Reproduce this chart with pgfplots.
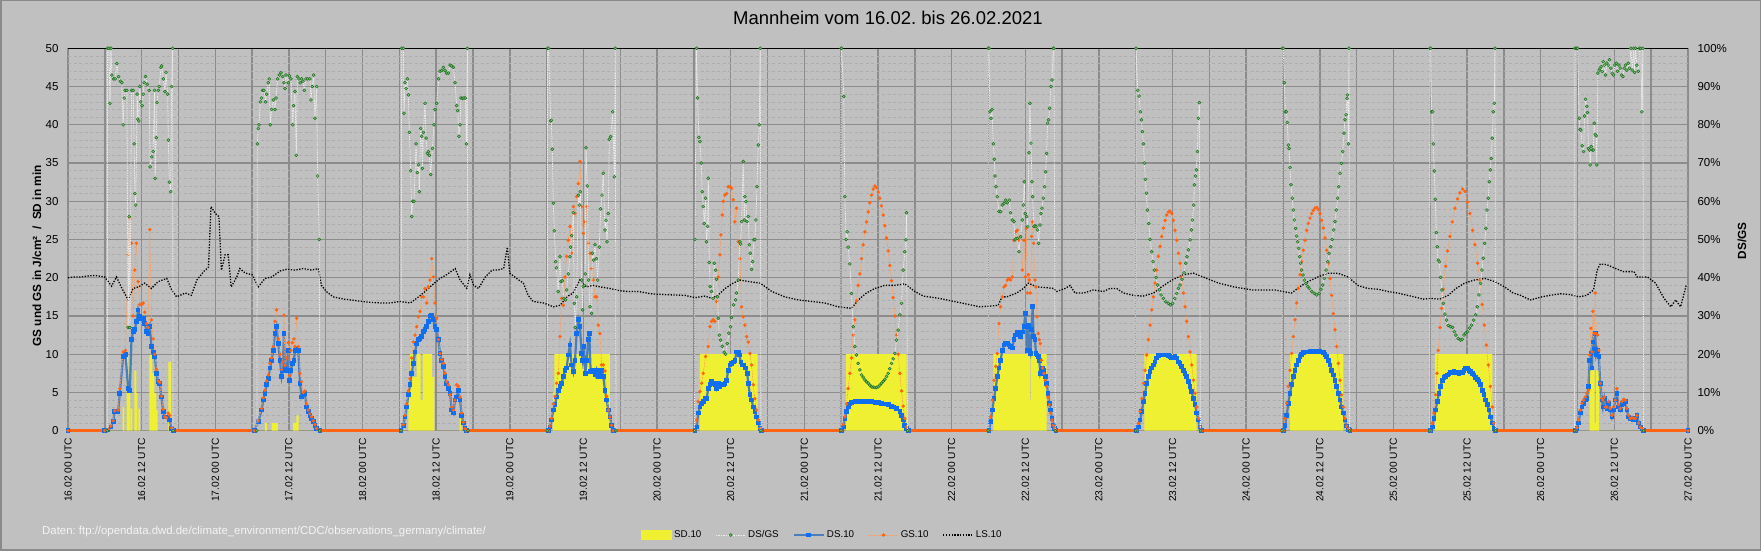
\documentclass[border=0pt]{standalone}
\usepackage{fontspec}
\setmainfont{Liberation Sans}
\usepackage{pgfplots}
\usepackage{pgfplotstable}
\pgfplotsset{compat=1.18}
\frenchspacing
\definecolor{bgc}{HTML}{C0C0C0}
\definecolor{framec}{HTML}{8A8A8A}
\definecolor{gridmaj}{HTML}{8C8C8C}
\definecolor{gridmin}{HTML}{ADADAD}
\definecolor{sdyel}{HTML}{F0F032}
\definecolor{dsgsgreen}{HTML}{1E6E1E}
\definecolor{dsgsfill}{HTML}{7CC47C}
\definecolor{dsgsline}{HTML}{EDEDED}
\definecolor{dsline}{HTML}{4A7EBB}
\definecolor{dsmark}{HTML}{0F6FF0}
\definecolor{gsorange}{HTML}{FF6414}
\definecolor{gsline}{HTML}{FF9C5A}
\definecolor{srcwhite}{HTML}{F4F4F4}

% SD.10 (sunshine duration, min per 10 min), const left
\pgfplotstableread{
d t v
0 0 0
0 8.91 3.1
0 9.18 0
0 9.56 9.9
0 9.83 5.8
0 10.16 0
0 10.26 2.9
0 10.48 0
0 10.81 7.9
0 11.13 4.9
0 11.30 0
0 11.46 2.9
0 11.73 0
0 13.25 9.9
0 13.74 7.5
0 14.07 4.9
0 14.39 2.7
0 14.61 0
0 16.35 9
0 16.78 0
1 8.10 1
1 8.40 0
1 9.20 1
1 10.20 0
1 12.70 1
1 13.20 2
1 13.60 0
2 7.45 6
2 7.75 10
2 8.30 7
2 8.80 10
2 9.45 4
2 9.80 10
2 11.35 7
2 11.70 0
2 15.80 2.5
2 16.10 0
3 7.00 5
3 7.25 10
3 16.30 0
4 6.98 10
4 16.37 0
5 6.76 10
5 16.65 0
6 6.79 10
6 12.76 4
6 12.88 10
6 15.48 0
7 7.41 10
7 15.94 0
8 7.14 10
8 15.83 0
9 6.76 10
9 16.10 0
10 7.96 7.9
10 8.77 1
10 9.04 7.9
10 9.53 0
10 24 0
}\SDt

% DS.10
\pgfplotstableread{
d t v
0 0 0
0 6.00 0
0 6.54 0.1
0 7.00 0.5
0 7.36 1.2
0 7.63 2.5
0 8.17 2.5
0 8.44 4.9
0 8.99 9.7
0 9.37 10
0 9.80 5.5
0 10.07 5.3
0 10.35 11.9
0 10.62 13
0 10.89 13.2
0 11.16 14.3
0 11.43 15.8
0 11.70 14.9
0 11.97 14.7
0 12.25 14.7
0 12.52 14
0 12.79 13
0 13.06 12.7
0 13.33 13.6
0 13.60 11
0 13.88 10.3
0 14.15 9.7
0 14.42 7.5
0 14.69 6.4
0 14.96 6.2
0 15.23 4.4
0 15.51 2.5
0 15.78 1.8
0 16.05 1.8
0 16.32 1.8
0 16.59 1.4
0 16.86 0.3
0 17.14 0
1 6.36 0
1 7.01 1.2
1 7.55 2.7
1 7.83 4
1 8.10 4.9
1 8.37 6
1 8.64 6.8
1 8.91 8.2
1 9.18 9.2
1 9.45 10.5
1 9.73 12.7
1 10.00 13.6
1 10.27 11.4
1 10.54 9.2
1 10.81 7.1
1 10.98 7.9
1 11.19 12.7
1 11.36 8.2
1 11.63 7.9
1 11.90 10.5
1 12.12 6.6
1 12.33 7.9
1 12.55 8.8
1 12.82 9.2
1 12.99 10.5
1 13.26 10.8
1 13.53 10.5
1 13.80 6.2
1 14.07 4.4
1 14.34 4.7
1 14.61 4.9
1 14.88 3.1
1 15.16 2.5
1 15.43 2
1 15.70 1.6
1 15.97 1.2
1 16.24 0.7
1 16.51 0.3
1 17.05 0
2 6.27 0
2 6.65 0.7
2 6.92 1.8
2 7.19 3.1
2 7.47 4.7
2 7.74 6
2 8.01 7.5
2 8.28 8.8
2 8.55 10.3
2 8.82 11.4
2 9.10 11.9
2 9.37 12.1
2 9.64 12.3
2 9.91 13
2 10.18 13.2
2 10.46 13.6
2 10.73 14.3
2 11.00 15
2 11.27 15.1
2 11.54 14.5
2 11.81 13.6
2 12.08 13.2
2 12.36 11.9
2 12.63 10.1
2 12.90 9.2
2 13.17 8.4
2 13.44 7.1
2 13.71 6.2
2 13.98 5.5
2 14.26 4.9
2 14.53 2.7
2 14.80 2.3
2 15.07 4
2 15.34 4.4
2 15.61 5.3
2 15.89 4
2 16.16 2
2 16.43 1
2 16.70 0.3
2 16.97 0
3 6.27 0
3 6.54 0.5
3 6.81 1.4
3 7.09 2.7
3 7.36 3.4
3 7.63 4.4
3 7.90 5.3
3 8.17 5.8
3 8.44 6.2
3 8.72 7.1
3 8.99 7.9
3 9.26 8.2
3 9.53 9.9
3 9.80 11.2
3 10.07 8.6
3 10.35 7.7
3 10.62 9.2
3 10.89 12.7
3 11.16 14.5
3 11.43 13.6
3 11.70 10.1
3 11.87 9.2
3 12.08 11
3 12.30 7.5
3 12.52 9.2
3 12.79 11.9
3 12.95 12.7
3 13.17 7.7
3 13.44 7.9
3 13.71 7.9
3 13.98 7.3
3 14.15 7.9
3 14.42 7.1
3 14.69 7.5
3 14.96 7.9
3 15.23 7.1
3 15.51 5.3
3 15.78 4
3 16.05 2.7
3 16.32 1.8
3 16.59 0.7
3 16.86 0
4 6.16 0
4 6.43 0.5
4 6.71 2.3
4 6.98 3.1
4 7.25 3.6
4 7.52 3.8
4 7.79 4.2
4 8.06 4.2
4 8.34 5.5
4 8.61 6
4 8.88 6.4
4 9.15 6.2
4 9.42 6
4 9.69 5.5
4 9.97 6.2
4 10.24 5.8
4 10.51 6
4 10.78 6
4 11.05 6.2
4 11.32 6.6
4 11.59 7.9
4 11.87 8.6
4 12.14 8.8
4 12.41 9
4 12.68 9.2
4 12.95 10.3
4 13.22 10.3
4 13.39 9.9
4 13.66 9
4 13.88 8.6
4 14.15 8.6
4 14.42 8.2
4 14.69 7.5
4 14.85 6.2
4 15.13 4.7
4 15.40 4
4 15.67 3.1
4 15.94 2.5
4 16.21 1.8
4 16.48 1
4 16.76 0.3
4 17.03 0
5 6.05 0
5 6.33 0.5
5 6.60 1.6
5 6.87 2.5
5 7.14 3.1
5 7.41 3.5
5 7.68 3.7
5 8.23 3.8
5 8.77 3.8
5 9.31 3.8
5 9.86 3.8
5 10.40 3.8
5 10.94 3.8
5 11.49 3.7
5 12.03 3.7
5 12.57 3.6
5 13.12 3.5
5 13.66 3.4
5 14.20 3.2
5 14.47 3.1
5 15.02 2.9
5 15.56 2.5
5 15.83 2
5 16.10 1.4
5 16.37 0.7
5 16.65 0.3
5 16.92 0
6 6.08 0
6 6.35 1.2
6 6.62 2.7
6 6.90 4.2
6 7.17 5.5
6 7.44 7.1
6 7.71 8.2
6 7.98 9.2
6 8.25 10.5
6 8.53 11.2
6 8.80 11.4
6 9.07 11.4
6 9.34 11.2
6 9.61 11
6 9.88 10.8
6 10.16 11.9
6 10.43 12.5
6 10.70 12.9
6 10.97 12.7
6 11.24 12.3
6 11.51 12.9
6 11.79 13.6
6 12.00 15.3
6 12.17 13.6
6 12.33 10.5
6 12.49 13.8
6 12.65 10.5
6 12.82 10.1
6 13.03 13.2
6 13.20 16.2
6 13.36 12.3
6 13.58 11.9
6 13.74 10.1
6 13.90 9.9
6 14.12 9.7
6 14.28 9.2
6 14.45 7.5
6 14.61 7.9
6 14.83 8.2
6 15.04 7.9
6 15.26 7.1
6 15.48 6.2
6 15.70 4.9
6 15.91 3.6
6 16.13 2.7
6 16.35 1.6
6 16.56 0.7
6 16.78 0.3
6 17.00 0
7 6.16 0
7 6.43 0.5
7 6.71 1.4
7 6.98 2.5
7 7.25 3.8
7 7.52 4.9
7 7.79 6.2
7 8.06 7.1
7 8.34 7.7
7 8.61 8.2
7 8.88 8.6
7 9.15 9
7 9.42 9.5
7 9.69 9.8
7 9.97 9.9
7 10.24 9.9
7 10.51 9.9
7 10.78 9.9
7 11.05 9.9
7 11.32 9.8
7 11.59 9.7
7 11.87 9.5
7 12.14 9.6
7 12.41 9.7
7 12.68 9.5
7 12.95 9
7 13.22 8.8
7 13.50 8.4
7 13.77 7.9
7 14.04 7.5
7 14.31 7.1
7 14.58 6.4
7 14.85 5.8
7 15.13 5.1
7 15.40 4.2
7 15.67 3.4
7 15.94 2.3
7 16.21 1.4
7 16.48 0.5
7 16.76 0
8 6.05 0
8 6.33 0.7
8 6.60 2
8 6.87 3.6
8 7.14 4.9
8 7.41 6
8 7.68 7.1
8 7.96 7.9
8 8.23 8.6
8 8.50 9.2
8 8.77 9.7
8 9.04 10
8 9.31 10.2
8 9.58 10.3
8 9.86 10.3
8 10.13 10.3
8 10.40 10.4
8 10.67 10.4
8 10.94 10.4
8 11.21 10.4
8 11.49 10.4
8 11.76 10.4
8 12.03 10.4
8 12.30 10.3
8 12.57 10.2
8 12.84 10
8 13.12 9.7
8 13.39 9.2
8 13.66 8.6
8 13.93 7.9
8 14.20 7.3
8 14.47 6.6
8 14.75 5.8
8 15.02 4.9
8 15.29 4
8 15.56 3.1
8 15.83 2.3
8 16.10 1.4
8 16.37 0.6
8 16.65 0.2
8 16.92 0
9 6.05 0
9 6.33 0.5
9 6.60 1.6
9 6.87 2.7
9 7.14 3.8
9 7.41 4.9
9 7.68 5.8
9 7.96 6.6
9 8.23 7
9 8.50 7.1
9 8.77 7.3
9 9.04 7.4
9 9.31 7.6
9 9.58 7.6
9 9.86 7.7
9 10.13 7.6
9 10.40 7.6
9 10.67 7.5
9 10.94 7.6
9 11.21 7.6
9 11.49 7.9
9 11.76 8.1
9 12.03 8.1
9 12.30 7.9
9 12.57 7.7
9 12.84 7.5
9 13.12 7.3
9 13.39 7
9 13.66 6.7
9 13.93 6.4
9 14.20 6
9 14.47 5.3
9 14.75 4.7
9 15.02 4
9 15.29 3.4
9 15.56 2.7
9 15.83 1.8
9 16.10 1
9 16.37 0.3
9 16.65 0
10 5.62 0
10 5.89 0.3
10 6.16 1
10 6.43 2.3
10 6.71 3.1
10 6.98 3.6
10 7.25 4
10 7.52 4.2
10 7.79 5.8
10 7.96 9.2
10 8.17 10.1
10 8.34 8.2
10 8.50 11.6
10 8.72 10.7
10 8.88 12.7
10 9.04 9.9
10 9.26 10.5
10 9.48 9.7
10 9.69 6.2
10 9.97 4
10 10.13 3.1
10 10.35 4.2
10 10.56 3.1
10 10.78 2.9
10 11.05 3.6
10 11.32 2.7
10 11.59 1.8
10 11.87 2.7
10 12.14 4
10 12.41 4.9
10 12.68 3.1
10 12.95 2.7
10 13.22 3.4
10 13.50 3.6
10 13.77 3.8
10 14.04 2.7
10 14.31 1.8
10 14.58 1.6
10 14.85 1.6
10 15.13 1.4
10 15.40 1.6
10 15.67 2
10 15.94 1
10 16.21 0.5
10 16.48 0.3
10 16.76 0
10 24 0
}\DSt

% GS.10
\pgfplotstableread{
d t v
0 0 0
0 6.00 0
0 6.54 0.2
0 7.00 0.6
0 7.36 1.3
0 7.63 2.6
0 8.17 2.7
0 8.44 5.5
0 8.99 10.3
0 9.37 10.5
0 9.80 23
0 10.07 27.8
0 10.35 24.5
0 10.62 15
0 10.89 21
0 11.16 24.5
0 11.43 19.5
0 11.70 16.5
0 11.97 16.5
0 12.25 16.7
0 12.52 15.5
0 12.79 14
0 13.06 13.5
0 13.33 26.3
0 13.60 14.5
0 13.88 12
0 14.15 10
0 14.42 8
0 14.69 6.5
0 14.96 6.3
0 15.23 4.5
0 15.51 2.8
0 15.78 1.8
0 16.05 1.7
0 16.32 2.3
0 16.59 2.0
0 16.86 0.4
0 17.14 0
1 6.36 0
1 7.01 1.3
1 7.55 2.9
1 7.83 4.3
1 8.10 5.3
1 8.37 6.5
1 8.64 7.3
1 8.91 8.8
1 9.18 9.5
1 9.45 11
1 9.73 14.3
1 10.00 15.8
1 10.27 12
1 10.54 10
1 10.81 8
1 10.98 9
1 11.19 15.1
1 11.36 8.5
1 11.63 9.5
1 11.90 11.5
1 12.12 7.2
1 12.33 10.5
1 12.55 11.5
1 12.82 12
1 12.99 11
1 13.26 14.7
1 13.53 11
1 13.80 7.5
1 14.07 6.4
1 14.34 5
1 14.61 5.2
1 14.88 3.5
1 15.16 2.7
1 15.43 2.2
1 15.70 1.8
1 15.97 1.3
1 16.24 0.8
1 16.51 0.3
1 17.05 0
2 6.27 0
2 6.65 0.8
2 6.92 2
2 7.19 3.5
2 7.47 5.2
2 7.74 6.8
2 8.01 9.5
2 8.28 11.6
2 8.55 12.5
2 8.82 13.6
2 9.10 14.9
2 9.37 15.6
2 9.64 17.5
2 9.91 17.5
2 10.18 18.6
2 10.46 16.7
2 10.73 18.8
2 11.00 19.7
2 11.27 22.5
2 11.54 20.1
2 11.81 16.7
2 12.08 14.7
2 12.36 11.9
2 12.63 10.1
2 12.90 9.3
2 13.17 8.8
2 13.44 7.5
2 13.71 6.4
2 13.98 6
2 14.26 4.7
2 14.53 3.1
2 14.80 2.7
2 15.07 4
2 15.34 6
2 15.61 5.8
2 15.89 4.4
2 16.16 2.3
2 16.43 1.1
2 16.70 0.3
2 16.97 0
3 6.27 0
3 6.54 0.6
3 6.81 1.6
3 7.09 3.5
3 7.36 4.5
3 7.63 6.2
3 7.90 7.5
3 8.17 12.3
3 8.44 17.3
3 8.72 16.4
3 8.99 20.1
3 9.26 22.8
3 9.53 24.9
3 9.80 26.7
3 10.07 23.2
3 10.35 29.3
3 10.62 28.4
3 10.89 30.6
3 11.16 32.3
3 11.43 35.2
3 11.70 29.3
3 11.98 25.8
3 12.25 27.3
3 12.52 29.3
3 12.79 24.5
3 13.06 23.2
3 13.33 21.2
3 13.60 19.7
3 13.88 17.5
3 14.15 17.5
3 14.42 13.8
3 14.69 12.7
3 14.96 8.6
3 15.23 8.6
3 15.51 7.8
3 15.78 4.5
3 16.05 2.7
3 16.32 1.8
3 16.59 0.7
3 16.86 0
4 6.16 0
4 6.43 1.4
4 6.71 3.8
4 6.98 5.1
4 7.25 6.2
4 7.52 7.5
4 7.90 9.7
4 8.34 11
4 8.61 13.6
4 8.88 14.3
4 9.15 14.5
4 9.42 14.3
4 9.69 16.9
4 9.97 20.1
4 10.24 23
4 10.40 25.6
4 10.62 28.2
4 10.78 30
4 11.05 30.8
4 11.32 31
4 11.59 31.9
4 11.87 31.9
4 12.14 31.7
4 12.41 30.2
4 12.68 27.3
4 12.95 29.1
4 13.22 24.7
4 13.50 22.5
4 13.77 16.2
4 14.04 14.9
4 14.31 13.8
4 14.58 12.3
4 14.85 11.6
4 15.13 10.1
4 15.40 8.6
4 15.67 6
4 15.94 4.2
4 16.21 2.7
4 16.48 1.4
4 16.76 0.3
4 17.03 0
5 6.05 0
5 6.33 0.8
5 6.60 1.8
5 6.87 3.5
5 7.14 5.5
5 7.41 7.5
5 7.68 9.5
5 7.96 12.5
5 8.23 14.5
5 8.50 17
5 8.77 19
5 9.04 20.5
5 9.31 22.5
5 9.58 24.3
5 9.86 26
5 10.13 27.3
5 10.40 28.6
5 10.67 29.8
5 10.94 30.8
5 11.21 31.6
5 11.49 32
5 11.76 31.8
5 12.03 31.2
5 12.30 30.4
5 12.57 29.4
5 12.84 28.2
5 13.12 26.8
5 13.39 25.2
5 13.66 23.5
5 13.93 21.6
5 14.20 19.6
5 14.47 17.4
5 14.75 15
5 15.02 12.5
5 15.29 10
5 15.56 7.5
5 15.83 5.2
5 16.10 3.2
5 16.37 1.6
5 16.65 0.5
5 16.92 0
6 6.08 0
6 6.35 1.8
6 6.62 4
6 6.90 6.6
6 7.17 8.4
6 7.44 10.1
6 7.71 14
6 7.98 16.2
6 8.25 17.5
6 8.53 18.8
6 8.80 19
6 9.07 19.7
6 9.34 19.9
6 9.61 19.7
6 9.88 20.1
6 10.16 24.9
6 10.43 26
6 10.70 26.2
6 10.97 24.9
6 11.24 25.4
6 11.51 21
6 11.79 24.9
6 12.00 20.1
6 12.17 26.5
6 12.33 18
6 12.49 20.4
6 12.65 19.7
6 12.82 18
6 13.03 25.4
6 13.20 27.3
6 13.36 24.5
6 13.58 19.7
6 13.74 18.8
6 13.90 14.9
6 14.12 12.7
6 14.28 11.9
6 14.45 11.4
6 14.61 9.2
6 14.83 8.2
6 15.04 7.5
6 15.26 6.6
6 15.48 5.8
6 15.70 4.4
6 15.91 3.4
6 16.13 2.3
6 16.35 1.4
6 16.56 0.7
6 16.78 0.3
6 17.00 0
7 6.16 0
7 6.43 1
7 6.71 2.5
7 6.98 4.2
7 7.25 6.2
7 7.52 7.9
7 7.79 9.9
7 8.06 11.9
7 8.34 13.8
7 8.61 15.8
7 8.88 17.5
7 9.15 19.3
7 9.42 21
7 9.69 22.8
7 9.97 24.1
7 10.24 25.4
7 10.51 26.5
7 10.78 27.5
7 11.05 28.2
7 11.32 28.6
7 11.59 28.7
7 11.87 28.4
7 12.14 27.5
7 12.41 26.2
7 12.68 24.9
7 12.95 23.2
7 13.22 21.9
7 13.50 20.1
7 13.77 18
7 14.04 16.2
7 14.31 14.3
7 14.58 12.3
7 14.85 10.3
7 15.13 8.6
7 15.40 6.6
7 15.67 4.9
7 15.94 3.1
7 16.21 1.6
7 16.48 0.5
7 16.76 0
8 6.05 0
8 6.33 1.6
8 6.60 3.6
8 6.87 5.8
8 7.14 7.9
8 7.41 10.1
8 7.68 12.3
8 7.96 14.5
8 8.23 16.7
8 8.50 18.6
8 8.77 20.4
8 9.04 22.1
8 9.31 23.6
8 9.58 24.9
8 9.86 26.2
8 10.13 27.1
8 10.40 27.8
8 10.67 28.4
8 10.94 28.8
8 11.21 29.1
8 11.49 29.2
8 11.76 28.9
8 12.03 28.4
8 12.30 27.5
8 12.57 26.5
8 12.84 25.2
8 13.12 23.6
8 13.39 21.9
8 13.66 19.9
8 13.93 17.7
8 14.20 15.3
8 14.47 13.2
8 14.75 11
8 15.02 8.8
8 15.29 6.6
8 15.56 4.7
8 15.83 3.1
8 16.10 1.6
8 16.37 0.6
8 16.65 0.2
8 16.92 0
9 6.05 0
9 6.33 1
9 6.60 2.3
9 6.87 4.7
9 7.09 7.5
9 7.30 10.5
9 7.58 13.5
9 7.85 16
9 8.12 18.5
9 8.50 21.5
9 8.82 23.5
9 9.20 25.4
9 9.58 27.3
9 10.02 29.1
9 10.45 30.3
9 10.83 31.1
9 11.27 31.6
9 11.65 31.3
9 12.08 29.9
9 12.46 28.4
9 12.90 26.2
9 13.28 24.3
9 13.71 21.9
9 14.09 19.7
9 14.47 16.5
9 14.80 13.8
9 15.13 11.2
9 15.45 8.6
9 15.78 5.8
9 16.10 3.1
9 16.37 1
9 16.65 0
10 5.62 0
10 5.89 0.4
10 6.16 1.4
10 6.43 2.7
10 6.71 3.6
10 6.98 4
10 7.25 4.4
10 7.52 4.9
10 7.79 5.3
10 7.96 9.9
10 8.17 13.4
10 8.34 10.3
10 8.50 15.6
10 8.72 12.7
10 8.88 18
10 9.04 12.7
10 9.26 12.5
10 9.48 10.5
10 9.69 6.2
10 9.97 4.2
10 10.13 4
10 10.35 4.4
10 10.56 3.1
10 10.78 3.1
10 11.05 3.8
10 11.32 2.9
10 11.59 2
10 11.87 3.1
10 12.14 4
10 12.41 5.5
10 12.68 3.4
10 12.95 2.9
10 13.22 3.8
10 13.50 4.1
10 13.77 4
10 14.04 2.9
10 14.31 2
10 14.58 1.6
10 14.85 1.7
10 15.13 1.6
10 15.40 1.6
10 15.67 2
10 15.94 1
10 16.21 0.5
10 16.48 0.3
10 16.76 0
10 24 0
}\GSt

% DS/GS in percent
\pgfplotstableread{
d t p
0 6.40 0
0 6.46 100
0 6.68 100
0 6.84 85.6
0 7.00 100
0 7.15 93
0 7.42 92
0 7.69 92
0 7.96 96
0 8.24 92.6
0 8.51 91.4
0 8.78 91
0 8.99 80
0 9.15 87
0 9.32 89
0 9.59 89
0 9.80 27
0 9.96 56
0 10.10 27
0 10.35 89
0 10.62 89
0 10.78 75
0 10.89 62
0 11.05 59
0 11.27 88
0 11.38 81.5
0 11.54 81
0 11.70 90
0 11.86 86
0 12.08 85
0 12.25 88
0 12.41 91
0 12.63 92.6
0 12.90 90.6
0 13.23 89
0 13.39 69
0 13.66 71.6
0 13.88 73
0 14.10 89
0 14.20 66
0 14.39 76.6
0 14.50 85.8
0 14.72 89
0 14.88 90
0 15.15 95
0 15.26 95.4
0 15.53 92
0 15.80 88.7
0 15.97 93.7
0 16.24 88
0 16.35 76
0 16.51 65
0 16.73 62.5
0 16.89 90
0 17.06 100
0 17.12 0
0 18 nan
1 6.79 0
1 6.85 75
1 7.01 79
1 7.12 80
1 7.34 86
1 7.55 87
1 7.72 89
1 7.93 89
1 8.21 86
1 8.37 88
1 8.64 91
1 8.80 92
1 8.97 80
1 9.18 84
1 9.45 86.5
1 9.73 84
1 9.89 87
1 10.16 92
1 10.43 93
1 10.70 93.6
1 10.98 92.6
1 11.19 91
1 11.36 89.5
1 11.52 93
1 11.90 91
1 12.07 92.8
1 12.33 92
1 12.61 80
1 12.77 85
1 12.99 88.7
1 13.20 72
1 13.37 92.6
1 13.64 92
1 13.85 91
1 14.07 92
1 14.29 91.4
1 14.51 89
1 14.78 92
1 15.05 92
1 15.43 92
1 15.59 86.5
1 15.81 90
1 16.03 93
1 16.24 81.7
1 16.52 90
1 16.68 66.6
1 16.95 50
1 17.00 0
1 18 nan
2 6.27 0
2 6.38 100
2 6.65 100
2 6.76 83
2 6.92 91
2 7.09 89.5
2 7.30 92
2 7.47 87.8
2 7.63 78
2 7.85 68
2 8.01 56
2 8.17 60
2 8.39 60
2 8.72 75
2 8.93 67.5
2 9.15 69.5
2 9.26 62.5
2 9.48 79
2 9.64 77
2 9.75 68.6
2 9.91 78
2 10.18 85.6
2 10.35 76.5
2 10.56 72.5
2 10.73 73
2 10.89 72
2 11.11 67
2 11.38 73.8
2 11.65 80
2 11.81 84
2 12.08 85.6
2 12.41 92
2 12.63 94
2 12.90 94.2
2 13.17 95
2 13.44 94.2
2 13.71 93.5
2 13.98 93.5
2 14.26 95.6
2 14.53 95.4
2 14.80 95
2 15.07 91
2 15.34 85
2 15.51 83.7
2 15.72 77
2 15.89 80
2 16.05 87
2 16.27 86.9
2 16.54 87
2 16.76 87
2 16.92 75
2 17.08 100
2 17.19 0
2 18 nan
3 6.10 0
3 6.16 100
3 6.33 100
3 6.65 81
3 6.76 81.2
3 6.92 73.6
3 7.09 59.5
3 7.25 52.3
3 7.47 44.2
3 7.58 42.6
3 7.90 36.4
3 8.17 45.5
3 8.34 39
3 8.55 39.2
3 8.82 34.6
3 9.10 34.2
3 9.26 36.8
3 9.53 41
3 9.80 45.5
3 9.91 48
3 10.07 51
3 10.35 57
3 10.51 33.3
3 10.67 27
3 10.89 35
3 11.16 61.6
3 11.32 59
3 11.49 62.5
3 11.70 39.4
3 11.87 31.6
3 11.98 37.7
3 12.14 38
3 12.30 41
3 12.41 74
3 12.63 64
3 12.84 39.4
3 13.06 32.4
3 13.33 30.7
3 13.44 46.4
3 13.66 44.6
3 13.88 48.6
3 14.09 45
3 14.31 39.4
3 14.58 48
3 14.80 58
3 15.02 61.6
3 15.23 67.3
3 15.51 52.5
3 15.67 55
3 15.83 49.4
3 16.05 56.8
3 16.21 76.2
3 16.43 76.9
3 16.76 83.4
3 17.03 66.4
3 17.19 100
3 17.30 0
3 18 nan
4 6.11 0
4 6.16 50
4 6.43 100
4 6.60 87
4 6.81 76.7
4 6.98 75.6
4 7.20 70
4 7.36 62.5
4 7.52 58.6
4 7.68 54.2
4 7.90 60.8
4 8.06 49.4
4 8.23 53.4
4 8.34 66
4 8.50 44
4 8.66 37.7
4 8.88 36.4
4 9.15 34.6
4 9.31 43.8
4 9.53 42
4 9.69 39.6
4 9.86 35
4 9.97 29.4
4 10.13 25
4 10.35 23.7
4 10.62 22.1
4 10.94 20.5
4 11.16 20
4 11.43 22.8
4 11.70 25.5
4 11.97 27.2
4 12.14 29.6
4 12.46 32.9
4 12.79 34.2
4 12.95 36
4 13.22 39.4
4 13.50 49.4
4 13.60 48.8
4 13.77 54.7
4 14.04 70.4
4 14.20 55.1
4 14.31 61.2
4 14.47 59.9
4 14.64 54.7
4 14.85 56
4 15.02 48.6
4 15.18 46.4
4 15.40 42.2
4 15.56 44.2
4 15.78 49.9
4 15.94 50
4 16.10 55.1
4 16.27 63.8
4 16.48 74.7
4 16.65 80
4 16.81 100
4 16.92 0
4 18 nan
5 5.97 0
5 6.00 100
5 6.05 100
5 6.43 87.4
5 6.60 61.2
5 6.81 50
5 6.98 52
5 7.14 48
5 7.41 43.6
5 7.68 35.9
5 7.96 27.2
5 8.23 22
5 8.50 19.8
5 8.77 17.6
5 9.04 15.9
5 9.31 14.6
5 9.58 14
5 9.86 13.3
5 10.13 12.8
5 10.40 12.4
5 10.67 11.9
5 10.94 11.5
5 11.21 11.4
5 11.49 11.3
5 11.76 11.3
5 12.03 11.5
5 12.30 11.9
5 12.57 12.4
5 12.84 12.9
5 13.12 13.4
5 13.39 14.2
5 13.66 15
5 13.93 16.2
5 14.20 17.6
5 14.47 18.8
5 14.75 20.2
5 15.02 23.7
5 15.29 26.3
5 15.56 30.3
5 15.83 33.3
5 16.10 42
5 16.37 46.8
5 16.54 49.9
5 16.65 57
5 16.81 0
5 18 nan
6 5.95 0
6 5.97 100
6 6.08 100
6 6.24 83.4
6 6.41 81.7
6 6.57 84
6 6.79 75
6 6.95 71
6 7.06 66.6
6 7.22 63.8
6 7.44 61.2
6 7.71 57.3
6 7.98 57.3
6 8.25 59
6 8.53 59.5
6 8.80 60.3
6 9.07 59.6
6 9.39 60.3
6 9.61 57
6 9.88 55.1
6 10.16 54.7
6 10.32 49.9
6 10.43 50.2
6 10.70 50.3
6 10.97 46.8
6 11.24 50.7
6 11.51 55.1
6 11.68 59
6 11.84 65.1
6 12.00 56.8
6 12.22 56
6 12.38 53.4
6 12.60 72.7
6 12.76 85.6
6 12.93 75.2
6 13.09 65.1
6 13.20 61.2
6 13.41 53.4
6 13.58 53.6
6 13.74 53.4
6 13.96 52.5
6 14.17 49
6 14.39 53.8
6 14.56 56.8
6 14.72 58.2
6 14.94 60.8
6 15.15 63.8
6 15.32 67.7
6 15.48 72.5
6 15.64 80.4
6 15.80 81.3
6 15.97 84.3
6 16.18 90
6 16.35 91.7
6 16.56 100
6 16.67 100
6 16.89 0
6 18 nan
7 6.00 0
7 6.05 100
7 6.33 89
7 6.54 87.5
7 6.76 83.4
7 6.92 81.3
7 7.09 78.2
7 7.25 75
7 7.41 70
7 7.58 65.7
7 7.74 62.1
7 7.90 57.7
7 8.12 54.2
7 8.34 50
7 8.61 46.8
7 8.82 44.2
7 9.04 42
7 9.31 40.1
7 9.58 38.1
7 9.86 36.8
7 10.13 35.5
7 10.51 34.6
7 10.89 33.7
7 11.32 33.3
7 11.70 32.9
7 12.03 33.3
7 12.36 34.6
7 12.68 35.9
7 12.95 37.2
7 13.22 38.1
7 13.55 39.6
7 13.88 41.3
7 14.15 43.8
7 14.36 45.5
7 14.58 47.3
7 14.85 49.9
7 15.07 52.5
7 15.23 55.1
7 15.45 59
7 15.56 64.3
7 15.72 66.6
7 15.89 68.2
7 16.05 73
7 16.21 81.7
7 16.37 85.8
7 16.54 0
7 18 nan
8 5.85 0
8 5.89 100
8 6.05 100
8 6.22 91
8 6.38 83.4
8 6.54 83.4
8 6.71 80.6
8 6.87 74.7
8 6.98 73.8
8 7.14 68.8
8 7.30 64.3
8 7.52 60.8
8 7.68 57.7
8 7.85 55.1
8 8.06 52.9
8 8.23 50.9
8 8.39 49.4
8 8.55 47.7
8 8.72 45.5
8 8.88 43.8
8 9.04 42
8 9.26 40.7
8 9.48 39.4
8 9.75 38.5
8 10.02 37.7
8 10.29 37.2
8 10.67 36.4
8 11.11 35.9
8 11.49 35.5
8 11.87 35.9
8 12.19 37
8 12.46 38.1
8 12.74 39.8
8 13.01 42
8 13.28 44.2
8 13.50 46.4
8 13.77 48.1
8 14.04 50
8 14.26 52.5
8 14.47 54.7
8 14.69 57.7
8 14.91 60.8
8 15.07 63.8
8 15.29 67.3
8 15.51 69.9
8 15.72 73
8 15.94 77.8
8 16.10 81.3
8 16.27 82.6
8 16.43 86.9
8 16.54 87.8
8 16.65 75
8 16.76 100
8 16.86 0
8 18 nan
9 5.90 0
9 5.95 100
9 6.05 100
9 6.22 83.4
9 6.38 83.4
9 6.49 75
9 6.65 67.9
9 6.81 60.5
9 6.98 51.8
9 7.14 48.1
9 7.30 44.6
9 7.47 44.2
9 7.68 40.1
9 7.90 36.8
9 8.12 33.3
9 8.39 30.5
9 8.66 28.9
9 8.93 27.5
9 9.31 27.2
9 9.64 27
9 9.91 25.9
9 10.18 25
9 10.56 24.1
9 10.94 23.7
9 11.21 23.9
9 11.49 25
9 11.76 25.5
9 12.08 25.9
9 12.41 26.8
9 12.74 27.6
9 13.06 28.9
9 13.39 30.3
9 13.66 32.4
9 13.93 35.5
9 14.20 38.5
9 14.42 42
9 14.64 45.1
9 14.85 49
9 15.07 52.9
9 15.23 57.7
9 15.45 60.8
9 15.61 65.1
9 15.78 68.2
9 15.94 71.2
9 16.10 76.5
9 16.27 83.4
9 16.43 85.6
9 16.54 100
9 16.65 0
9 18 nan
10 5.52 0
10 5.57 100
10 5.73 100
10 5.89 100
10 6.00 100
10 6.27 81.7
10 6.43 78.8
10 6.54 78.6
10 6.76 74.5
10 6.98 73
10 7.14 82.3
10 7.30 86.7
10 7.52 84.8
10 7.63 83.2
10 7.79 73.8
10 7.96 73.4
10 8.06 69.5
10 8.23 74.3
10 8.39 73.4
10 8.55 73.4
10 8.72 80.4
10 8.88 77.5
10 9.04 77.1
10 9.15 69.5
10 9.31 93.5
10 9.53 94.3
10 9.69 94.8
10 9.86 95.2
10 10.02 93.9
10 10.18 96.5
10 10.35 95.6
10 10.56 93
10 10.78 96.1
10 11.00 95.6
10 11.21 97
10 11.43 94.8
10 11.65 93.5
10 11.87 93
10 12.08 95.6
10 12.30 96.1
10 12.52 94
10 12.74 95.6
10 12.95 94.8
10 13.17 93
10 13.39 92.6
10 13.60 94.8
10 13.82 95.6
10 14.04 94.3
10 14.26 96.1
10 14.47 94.8
10 14.69 100
10 14.91 94.3
10 15.13 100
10 15.29 93.7
10 15.45 100
10 15.67 95.6
10 15.89 94
10 16.10 100
10 16.32 100
10 16.48 83.4
10 16.65 100
10 16.76 0
}\DGt

% LS.10
\pgfplotstableread{
h v
0 20.0
1 20.1
2 20.1
3 20.2
4.4 20.3
6.0 20.1
7.1 18.9
7.9 20.1
8.8 18.6
9.8 17.1
10.6 18.6
11.5 18.8
12.5 19.3
13.6 18.6
14.7 19.5
16.1 19.9
16.9 18.4
17.7 17.5
19.1 18.0
20.1 17.7
21.0 19.7
22.1 20.8
22.9 21.4
23.3 29.3
24.0 28.4
24.6 28.0
25.0 21.0
25.6 23.0
26.1 23.0
26.6 18.8
27.5 20.1
28.0 21.2
28.9 20.6
30.0 20.4
31.0 18.8
32.1 19.9
33.2 20.1
34.6 20.9
35.6 21.1
37.0 21.0
38.3 21.2
39.7 21.0
40.8 21.2
41.3 19.0
42.1 18.2
43.2 17.5
45 17.2
47 17.0
49 16.8
51 16.7
52.5 16.7
54.1 16.9
55.8 16.7
56.8 17.3
57.9 18.0
59.0 18.8
60.6 19.9
61.7 20.4
63.1 21.2
63.9 19.7
65.0 18.6
65.5 20.4
66.1 19.0
66.9 18.6
68.0 20.1
69.1 21.0
69.9 21.0
71.0 21.2
71.6 24.0
72.0 20.6
73.1 19.9
74.2 19.3
75.0 17.7
75.8 16.9
77.5 16.7
79.1 16.2
80.2 16.4
81.3 17.5
82.3 18.0
83.4 19.7
84.5 18.8
85.6 19.0
86.7 18.8
88.3 18.6
89.9 18.3
91.3 18.2
93 18.2
95 17.9
97 17.8
100.5 17.7
102.2 17.4
103.8 17.6
104.9 17.3
105.9 17.7
107.1 18.6
108.4 19.3
109.5 19.7
110.9 19.5
112.8 19.3
114.7 18.2
116.8 17.5
119.0 17.1
121.2 16.9
123.3 16.7
125.5 16.2
127.7 16.0
128.8 17.1
130.1 18.0
131.5 18.6
133.1 19.0
134.7 19.0
136.4 19.2
138.0 18.2
139.4 17.6
142 17.3
145 16.8
148.6 16.2
150.3 16.3
151.6 16.4
152.2 17.5
153.0 17.5
154.6 18.0
155.7 18.6
156.5 19.3
157.9 18.8
159.5 18.7
160.6 18.6
161.1 18.2
162.5 18.6
163.3 19.0
164.1 18.0
165.5 18.0
167.1 18.4
168.7 18.2
169.8 18.6
170.9 18.6
172.0 18.0
173.6 17.7
175.2 17.6
176.9 18.0
178.2 18.8
179.9 19.7
181.8 20.4
183.4 20.6
185.6 19.9
187.5 19.3
190 18.8
193 18.4
196.7 18.4
198.0 18.2
199.4 18.0
200.7 18.8
202.1 19.5
203.7 20.1
205.3 20.6
206.9 20.6
208.6 20.1
210.2 19.0
211.8 18.6
213.5 18.5
215.1 18.2
216.7 18.0
218.3 17.7
219.4 17.5
220.8 17.2
222.1 17.3
223.5 17.2
224.9 17.7
226.2 18.6
227.6 19.3
229.2 19.7
230.9 19.9
232.5 19.5
234.1 18.8
235.5 18.0
236.7 17.7
238.3 17.1
240.2 17.5
241.5 17.7
243.2 17.9
244.8 17.8
246.2 17.5
247.5 17.7
248.6 18.4
249.2 21.0
249.7 21.8
250.8 21.7
252.2 21.2
253.5 20.8
255.2 20.8
255.7 20.1
257.4 20.1
258.7 19.3
260.1 17.3
261.2 16.2
262.0 17.1
262.8 16.2
263.7 19.0
}\LSt

\begin{document}
\begin{tikzpicture}
\useasboundingbox (0,0) rectangle (1761pt,551pt);
\fill[bgc] (0,0) rectangle (1761pt,551pt);
\draw[framec, line width=1.5pt] (0.75pt,0.75pt) rectangle (1760.25pt,550.25pt);

\begin{axis}[
  at={(68pt,120.3pt)}, anchor=south west, scale only axis,
  width=1620pt, height=382.4pt,
  xmin=0, xmax=264, ymin=0, ymax=50,
  clip=false,
  axis line style={draw=none}, tick style={draw=none},
  xtick={0,6,...,264},
  xticklabels={16.02 00 UTC,,16.02 12 UTC,,17.02 00 UTC,,17.02 12 UTC,,18.02 00 UTC,,18.02 12 UTC,,19.02 00 UTC,,19.02 12 UTC,,20.02 00 UTC,,20.02 12 UTC,,21.02 00 UTC,,21.02 12 UTC,,22.02 00 UTC,,22.02 12 UTC,,23.02 00 UTC,,23.02 12 UTC,,24.02 00 UTC,,24.02 12 UTC,,25.02 00 UTC,,25.02 12 UTC,,26.02 00 UTC,,26.02 12 UTC,,27.02 00 UTC},
  ytick={0,5,...,50}, minor y tick num=4,
  xmajorgrids, ymajorgrids, yminorgrids,
  major grid style={gridmaj, line width=1.4pt},
  minor grid style={gridmin, line width=0.6pt, dash pattern=on 3pt off 2.5pt},
  xticklabel style={rotate=90, anchor=east, font=\fontsize{10.2}{12}\selectfont},
  xticklabel shift=4pt,
  yticklabel style={font=\fontsize{11.5}{13}\selectfont},
  yticklabel shift=6pt,
  /pgf/number format/assume math mode=true,
  legend image code/.code={\draw[mark repeat=2,mark phase=2,#1] plot coordinates {(0pt,0pt) (15pt,0pt) (30pt,0pt)};},
  legend style={at={(0.3537,-0.2728)}, anchor=west, draw=none, fill=none, inner sep=0pt,
    font=\fontsize{9.8}{12}\selectfont, legend columns=5,
    /tikz/every even column/.append style={column sep=12pt}},
  legend cell align=left,
]
\addplot[const plot mark left, fill=sdyel, draw=none,
  legend image code/.code={\fill[sdyel] (0pt,-5pt) rectangle (31pt,5pt);}]
  table[x expr={24*\thisrow{d}+\thisrow{t}}, y=v]{\SDt} \closedcycle;
\addlegendentry{SD.10}
\addlegendimage{dsgsline, line width=0.8pt, dash pattern=on 1.5pt off 1pt, mark=*, mark size=1.5pt, mark options={solid, draw=dsgsgreen, fill=dsgsfill, line width=0.5pt}}
\addlegendentry{DS/GS}
\addplot[dsline, line width=2.2pt, mark=square*, mark size=1.25pt, mark options={draw=dsmark, fill=dsmark}]
  table[x expr={24*\thisrow{d}+\thisrow{t}}, y=v]{\DSt};
\addlegendentry{DS.10}
\addplot[gsline, line width=0.6pt, dash pattern=on 2pt off 1pt, mark=*, mark size=1.4pt, mark options={solid, draw=gsorange, fill=gsorange}]
  table[x expr={24*\thisrow{d}+\thisrow{t}}, y=v]{\GSt};
\addlegendentry{GS.10}
\addplot[gsorange, line width=2.6pt, forget plot, restrict y to domain=-1:0.01, unbounded coords=jump]
  table[x expr={24*\thisrow{d}+\thisrow{t}}, y=v]{\GSt};
\addplot[black, line width=1.3pt, dash pattern=on 1.3pt off 1.5pt] table[x=h, y=v]{\LSt};
\addlegendentry{LS.10}
\end{axis}

\begin{axis}[
  at={(68pt,120.3pt)}, anchor=south west, scale only axis,
  width=1620pt, height=382.4pt,
  xmin=0, xmax=264, ymin=0, ymax=100,
  clip=false,
  axis x line=none, axis y line*=right,
  y axis line style={draw=none}, tick style={draw=none},
  ytick={0,10,...,100},
  yticklabel={\pgfmathprintnumber{\tick}\%},
  yticklabel style={font=\fontsize{11.5}{13}\selectfont},
  yticklabel shift=6pt,
  /pgf/number format/assume math mode=true,
  unbounded coords=jump,
]
\addplot[dsgsline, line width=0.8pt, dash pattern=on 1.5pt off 1pt, mark=*, mark size=1.5pt, mark options={solid, draw=dsgsgreen, fill=dsgsfill, line width=0.5pt}]
  table[x expr={24*\thisrow{d}+\thisrow{t}}, y=p]{\DGt};
\draw[black, line width=1.3pt] (axis cs:0,100) -- (axis cs:264,100);
\end{axis}

\node[font=\fontsize{18.5}{22}\selectfont, anchor=base] at (888pt,526pt) {Mannheim vom 16.02. bis 26.02.2021};
\node[rotate=90, font=\bfseries\fontsize{11.8}{14}\selectfont] at (37pt,295pt) {GS und GS in J/cm²\ \ /\ \ SD in min};
\node[rotate=90, font=\bfseries\fontsize{11.8}{14}\selectfont] at (1742pt,310pt) {DS/GS};
\node[font=\fontsize{11.4}{13}\selectfont, text=srcwhite, anchor=west, inner sep=0pt] at (42pt,19pt) {Daten: ftp://opendata.dwd.de/climate\_environment/CDC/observations\_germany/climate/};
\end{tikzpicture}
\end{document}
